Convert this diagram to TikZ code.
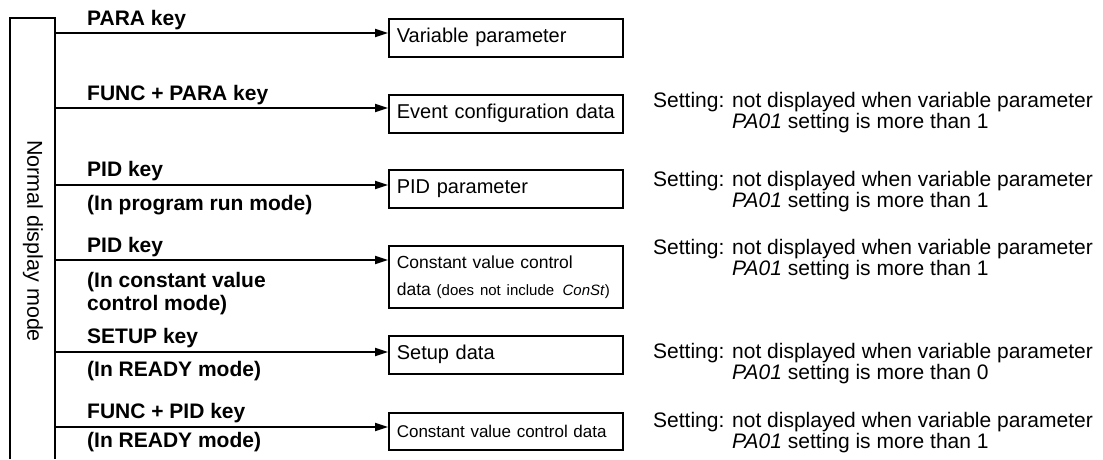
\documentclass[tikz,border=0pt]{standalone}
\usepackage{fontspec}
\setmainfont{Liberation Sans}
\usetikzlibrary{positioning,arrows.meta}

\begin{document}
\begin{tikzpicture}[x=1pt, y=1pt,
    frame/.style={line width=1.8pt},
    keyarrow/.style={line width=1.8pt, -{Triangle[length=13pt,width=8pt]}},
    keylabel/.style={anchor=base west, inner sep=0pt, align=left,
        font=\bfseries\fontsize{21}{23}\selectfont},
    databox/.style={draw, line width=1.6pt, anchor=north west, minimum width=234pt,
        text width=218pt, inner xsep=8pt, align=left, font=\fontsize{20}{24}\selectfont},
    note/.style={anchor=base west, inner sep=0pt, align=left,
        font=\fontsize{21}{21}\selectfont}]
    \useasboundingbox (0,0) rectangle (1103,459);

    % left frame
    \draw[frame] (10,0) |- (55,441) -- (55,0);
    \node[rotate=-90, font=\fontsize{21.5}{24}\selectfont] (normal) at (33,218) {Normal display mode};

    % start points on the frame
    \coordinate (k1) at (55,426);
    \coordinate (k2) at (55,351);
    \coordinate (k3) at (55,274);
    \coordinate (k4) at (55,199);
    \coordinate (k5) at (55,107);
    \coordinate (k6) at (55,32);

    % boxes
    \node[databox, minimum height=38pt] (varpar) at (388,441) {Variable parameter};
    \node[databox, minimum height=38pt] (eventcfg) at (388,365) {Event configuration data};
    \node[databox, minimum height=38pt] (pidpar) at (388,290) {PID parameter};
    \node[databox, minimum height=62pt, font=\fontsize{17.5}{27}\selectfont] (constctl) at (388,214)
        {Constant value control\\data {\fontsize{15}{15}\selectfont (does not include \,\textit{ConSt})}};
    \node[databox, minimum height=38pt] (setupdat) at (388,124) {Setup data};
    \node[databox, minimum height=37pt, font=\fontsize{17}{20}\selectfont] (constdat) at (388,47) {Constant value control data};

    % arrows
    \draw[keyarrow] (k1) -- (varpar.west |- k1);
    \draw[keyarrow] (k2) -- (eventcfg.west |- k2);
    \draw[keyarrow] (k3) -- (pidpar.west |- k3);
    \draw[keyarrow] (k4) -- (constctl.west |- k4);
    \draw[keyarrow] (k5) -- (setupdat.west |- k5);
    \draw[keyarrow] (k6) -- (constdat.west |- k6);

    % key labels
    \node[keylabel] (lab1) at (87,433) {PARA key};
    \node[keylabel] (lab2) at (87,359) {FUNC + PARA key};
    \node[keylabel] (lab3) at (87,283) {PID key};
    \node[keylabel] (lab3b) at (87,249) {(In program run mode)};
    \node[keylabel] (lab4) at (87,207) {PID key};
    \node[keylabel] (lab4b) at (87,149) {(In constant value\\control mode)};
    \node[keylabel] (lab5) at (87,116) {SETUP key};
    \node[keylabel] (lab5b) at (87,83) {(In READY mode)};
    \node[keylabel] (lab6) at (87,41) {FUNC + PID key};
    \node[keylabel] (lab6b) at (87,12) {(In READY mode)};

    % notes (anchored on the second line)
    \node[note] (note2) at (653,331) {Setting: not displayed when variable parameter\\\phantom{Setting: }\textit{PA01} setting is more than 1};
    \node[note] (note3) at (653,252) {Setting: not displayed when variable parameter\\\phantom{Setting: }\textit{PA01} setting is more than 1};
    \node[note] (note4) at (653,184) {Setting: not displayed when variable parameter\\\phantom{Setting: }\textit{PA01} setting is more than 1};
    \node[note] (note5) at (653,80) {Setting: not displayed when variable parameter\\\phantom{Setting: }\textit{PA01} setting is more than 0};
    \node[note] (note6) at (653,11) {Setting: not displayed when variable parameter\\\phantom{Setting: }\textit{PA01} setting is more than 1};
\end{tikzpicture}
\end{document}
